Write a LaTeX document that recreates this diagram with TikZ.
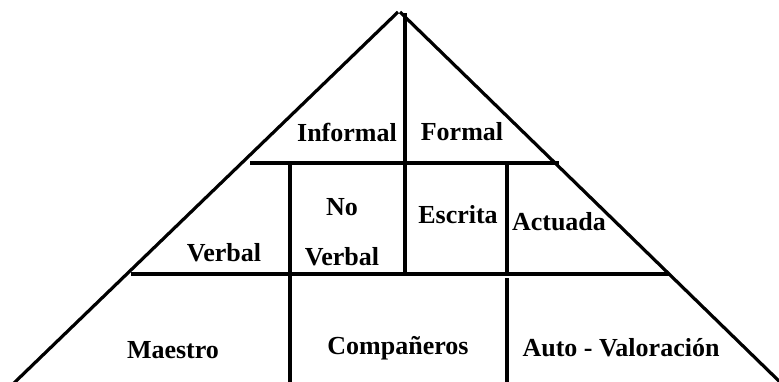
\documentclass[tikz,border=0pt]{standalone}
\usepackage{fontspec}
\setmainfont{Liberation Serif}
\begin{document}
\begin{tikzpicture}[x=1pt,y=-1pt,
  ln/.style={line width=3.2pt,black},
  lbl/.style={font=\bfseries\fontsize{26}{30}\selectfont,inner sep=0pt,anchor=center}]
\useasboundingbox (0,0) rectangle (779,381);
% outline of pyramid
\coordinate (apexL) at (398,12);
\coordinate (apexR) at (400,12);
\coordinate (botL) at (14,383);
\coordinate (botR) at (781,383);
\draw[ln] (apexL) -- (botL);
\draw[ln] (apexR) -- (botR);
% central vertical
\coordinate (cTop) at (405,13);
\coordinate (cBot) at (405,274);
\draw[ln] (cTop) -- (cBot);
% horizontal lines
\coordinate (h1L) at (250,163);
\coordinate (h1R) at (559,163);
\draw[ln] (h1L) -- (h1R);
\coordinate (h2L) at (131,274);
\coordinate (h2R) at (669,274);
\draw[ln] (h2L) -- (h2R);
% verticals middle/bottom
\coordinate (v1T) at (290,163);
\coordinate (v1B) at (290,383);
\draw[ln] (v1T) -- (v1B);
\coordinate (v2T) at (507,163);
\coordinate (v2M) at (507,274);
\draw[ln] (v2T) -- (v2M);
\coordinate (v3T) at (507,278);
\coordinate (v3B) at (507,383);
\draw[ln] (v3T) -- (v3B);
% labels
\node[lbl] (informal) at (347,132) {Informal};
\node[lbl] (formal) at (462,132) {Formal};
\node[lbl] (no) at (342,207) {No};
\node[lbl] (noverbal) at (342,257) {Verbal};
\node[lbl] (escrita) at (458,215) {Escrita};
\node[lbl] (actuada) at (559,222) {Actuada};
\node[lbl] (verbal) at (224,253) {Verbal};
\node[lbl] (maestro) at (173,350) {Maestro};
\node[lbl] (comp) at (398,348) {Compañeros};
\node[lbl] (auto) at (621,348) {Auto - Valoración};
\end{tikzpicture}
\end{document}
